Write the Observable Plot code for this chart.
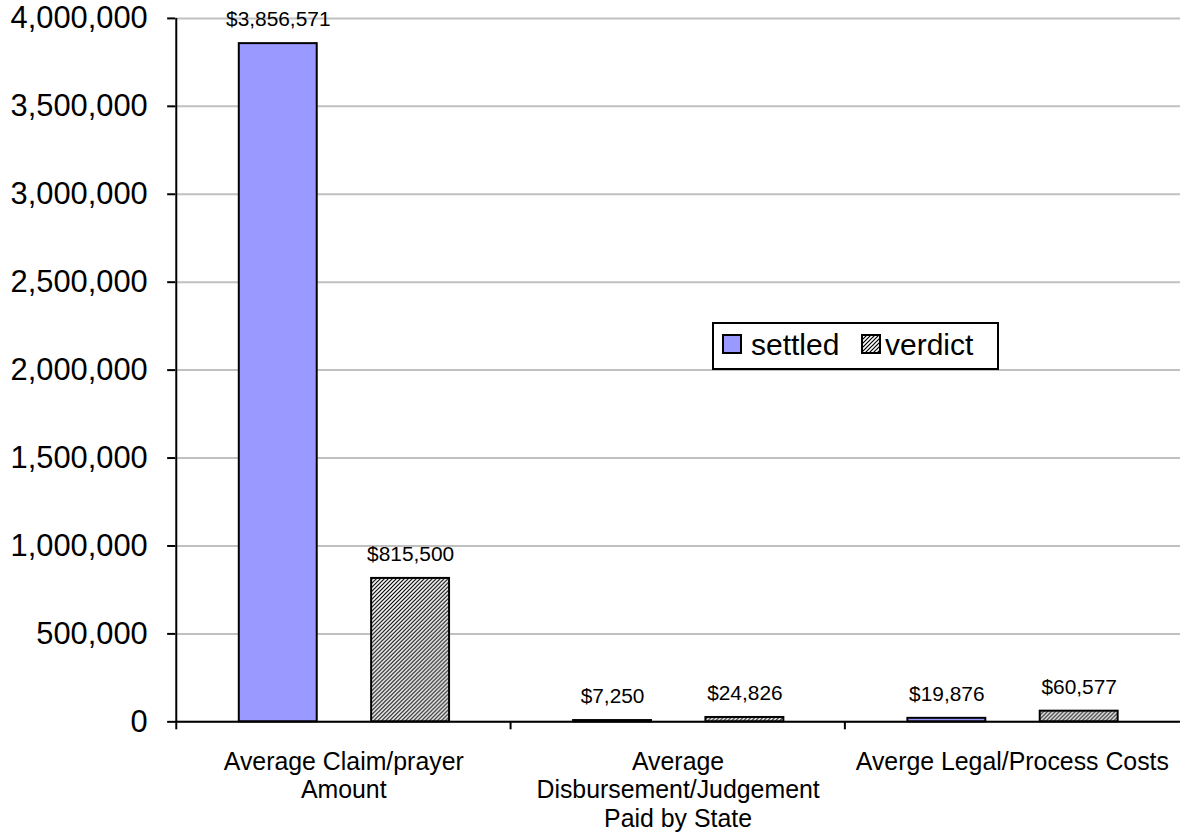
<!DOCTYPE html>
<html>
<head>
<meta charset="utf-8">
<script src="https://cdn.jsdelivr.net/npm/d3@7"></script>
<script src="https://cdn.jsdelivr.net/npm/@observablehq/plot@0.6"></script>
<style>
  html, body { margin: 0; padding: 0; background: white; overflow: hidden; }
  #wrap { position: relative; width: 1181px; height: 837px; overflow: hidden; }
  #legend { position: absolute; left: 712px; top: 322px; }
</style>
</head>
<body>
<div id="wrap"></div>
<script>
// ---- data ----
const categories = [
  "Average Claim/prayer Amount",
  "Average Disbursement/Judgement Paid by State",
  "Averge Legal/Process Costs"
];
const categoryLabels = [
  "Average Claim/prayer\nAmount",
  "Average\nDisbursement/Judgement\nPaid by State",
  "Averge Legal/Process Costs"
];
const seriesNames = ["settled", "verdict"];
const settled = [3856571, 7250, 19876];
const verdict = [815500, 24826, 60577];
const yTicks = [0, 500000, 1000000, 1500000, 2000000, 2500000, 3000000, 3500000, 4000000];

// ---- layout ----
const W = 1187, H = 837, mL = 176, mR = 1, mT = 18, mB = 112;
const step = (W - mL - mR) / categories.length;
const barW = 79, outer = 63, gap = 54;
const sInsetL = outer, sInsetR = step - outer - barW;
const vInsetL = outer + barW + gap, vInsetR = step - vInsetL - barW;
const sDx = outer + barW / 2 - step / 2;
const vDx = vInsetL + barW / 2 - step / 2;

const settledRows = categories.map((c, i) => ({category: c, value: settled[i]}));
const verdictRows = categories.map((c, i) => ({category: c, value: verdict[i]}));
const fmt = d3.format(",");
const FONT = "'Liberation Sans', Arial, sans-serif";

function hatchDefs() {
  const defs = d3.create("svg:defs");
  const p = defs.append("pattern")
    .attr("id", "hatch").attr("patternUnits", "userSpaceOnUse")
    .attr("width", 4).attr("height", 4);
  p.append("rect").attr("width", 4).attr("height", 4).attr("fill", "white");
  p.append("path").attr("d", "M-1,1 l2,-2 M0,4 l4,-4 M3,5 l2,-2")
    .attr("stroke", "black").attr("stroke-width", 1.2);
  return defs.node();
}

const chart = Plot.plot({
  width: W, height: H,
  marginLeft: mL, marginRight: mR, marginTop: mT, marginBottom: mB,
  style: {fontFamily: FONT, color: "black", background: "white"},
  x: {domain: categories, padding: 0, axis: null, label: null},
  y: {domain: [0, 4000000], axis: null, label: null},
  marks: [
    hatchDefs,
    Plot.gridY(yTicks, {stroke: "#c0c0c0", strokeOpacity: 1, strokeWidth: 2}),
    Plot.barY(settledRows, {x: "category", y: "value", fill: "#9999ff", stroke: "black", strokeWidth: 2,
      insetLeft: sInsetL, insetRight: sInsetR}),
    Plot.barY(verdictRows, {x: "category", y: "value", fill: "url(#hatch)", stroke: "black", strokeWidth: 2,
      insetLeft: vInsetL, insetRight: vInsetR}),
    Plot.ruleY([0], {stroke: "black", strokeWidth: 2}),
    Plot.ruleX([categories[0]], {x: d => d, dx: -step / 2, stroke: "black", strokeWidth: 2}),
    Plot.axisY(yTicks, {anchor: "left", tickSize: 8, tickPadding: 20, tickFormat: fmt,
      fontSize: 31, strokeWidth: 2, label: null}),
    Plot.axisX({anchor: "bottom", tickSize: 8, tickFormat: () => "", dx: -step / 2, strokeWidth: 2, label: null}),
    Plot.axisX({anchor: "bottom", tickSize: 0, tickPadding: 28,
      tickFormat: d => categoryLabels[categories.indexOf(d)],
      fontSize: 25, lineHeight: 1.14, label: null}),
    Plot.text(settledRows, {x: "category", y: "value", text: d => "$" + fmt(d.value),
      dx: sDx, dy: -24, fontSize: 21, lineAnchor: "middle", fill: "black"}),
    Plot.text(verdictRows, {x: "category", y: "value", text: d => "$" + fmt(d.value),
      dx: vDx, dy: -24, fontSize: 21, lineAnchor: "middle", fill: "black"})
  ]
});

const wrap = document.getElementById("wrap");
wrap.appendChild(chart);

// ---- legend (inside plot area) ----
const lg = d3.select(wrap).append("svg").attr("id", "legend")
  .attr("width", 287).attr("height", 48)
  .style("font-family", FONT);
const ld = lg.append("defs").append("pattern")
  .attr("id", "hatchLegend").attr("patternUnits", "userSpaceOnUse")
  .attr("width", 4).attr("height", 4);
ld.append("rect").attr("width", 4).attr("height", 4).attr("fill", "white");
ld.append("path").attr("d", "M-1,1 l2,-2 M0,4 l4,-4 M3,5 l2,-2")
  .attr("stroke", "black").attr("stroke-width", 1.2);
lg.append("rect").attr("x", 1).attr("y", 1).attr("width", 285).attr("height", 46)
  .attr("fill", "white").attr("stroke", "black").attr("stroke-width", 2);
const legendItems = [
  {name: seriesNames[0], fill: "#9999ff", sx: 11, tx: 39},
  {name: seriesNames[1], fill: "url(#hatchLegend)", sx: 150, tx: 173}
];
for (const it of legendItems) {
  lg.append("rect").attr("x", it.sx).attr("y", 13).attr("width", 18).attr("height", 18)
    .attr("fill", it.fill).attr("stroke", "black").attr("stroke-width", 2);
  lg.append("text").attr("x", it.tx).attr("y", 33).attr("font-size", 30).attr("fill", "black")
    .text(it.name);
}
</script>
</body>
</html>
